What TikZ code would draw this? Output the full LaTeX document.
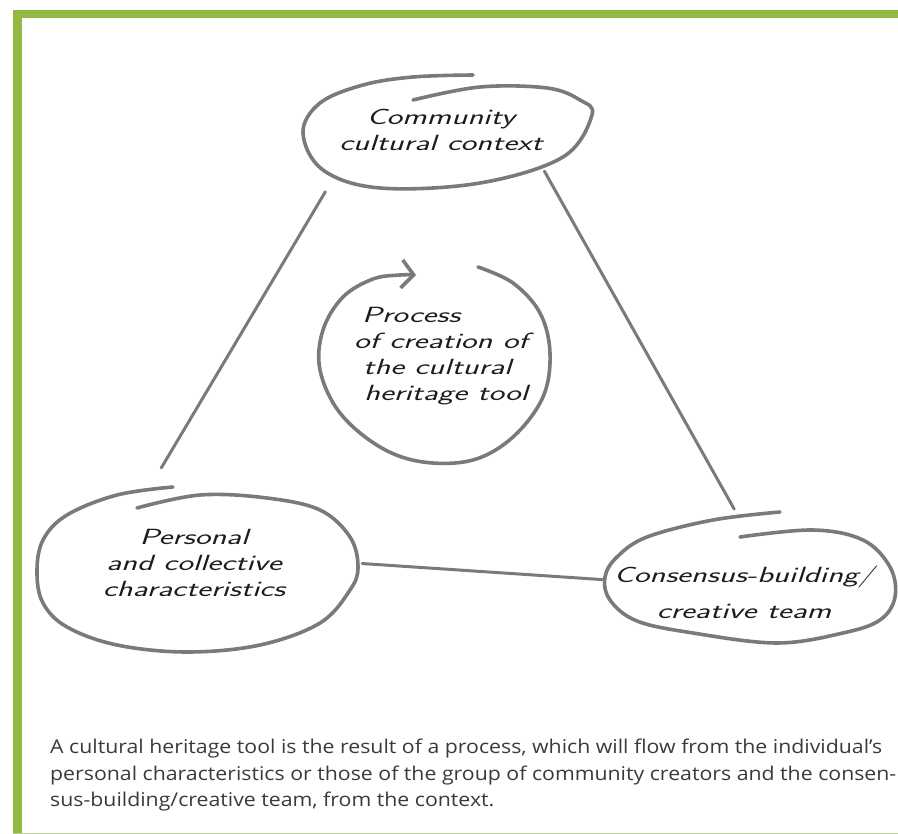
\documentclass[tikz,border=0pt]{standalone}
\usepackage{fontspec}
\usepackage{graphicx}
\usetikzlibrary{positioning,shapes.geometric,arrows.meta}
\newfontfamily\notefont{Open Sans}[FakeStretch=1.12]

\definecolor{framegreen}{RGB}{146,184,66}
\definecolor{edgegreen}{RGB}{188,212,150}
\definecolor{pencil}{RGB}{122,122,122}
\definecolor{ink}{RGB}{28,28,28}
\definecolor{notegray}{RGB}{58,58,58}

% stretched italic lettering for the hand-written labels
\newcommand{\hw}[1]{\scalebox{1.5}[1]{#1}}

\tikzset{
  sketch/.style={draw=pencil, line width=3.6pt, line cap=round, line join=round},
  link/.style={draw=pencil, line width=3pt, line cap=round},
  hand/.style={font=\fontsize{22}{26}\selectfont\sffamily\itshape, text=ink, align=center},
  bubble/.style={ellipse, inner xsep=-40pt, inner ysep=-10pt},
  note/.style={font=\fontsize{19}{27}\selectfont\notefont, text=notegray, anchor=base west, inner sep=0pt}
}

\begin{document}
\begin{tikzpicture}[x=1pt, y=-1pt]
  \useasboundingbox (0,0) rectangle (898,834);

  % Frame
  \fill[framegreen] (13,10) rectangle (898,18.5);
  \fill[framegreen] (13,10) rectangle (21.5,834);
  \fill[edgegreen] (13,832.5) rectangle (898,834);

  % Context
  \node[bubble, hand, minimum width=292pt, minimum height=116pt] (ctx) at (441,130) {\hw{Community}\\\hw{cultural context}};
  \draw[sketch] plot[smooth, tension=0.6] coordinates {(473,75) (413,77) (363,85) (320,103) (303,133) (323,170) (380,188) (480,183) (563,157) (592,115) (580,100) (547,88) (480,87) (413,100)};

  % Personal characteristics
  \node[bubble, hand, minimum width=320pt, minimum height=158pt] (pers) at (194,563) {\hw{Personal}\\\hw{and collective}\\\hw{characteristics}};
  \draw[sketch] plot[smooth, tension=0.6] coordinates {(173,487) (117,495) (67,515) (43,540) (37,572) (43,603) (67,627) (117,645) (187,652) (260,645) (320,623) (350,590) (358,567) (350,537) (320,510) (267,498) (200,495) (137,508)};

  % Team
  \node[bubble, hand, minimum width=290pt, minimum height=113pt] (team) at (744,592) {\hw{Consensus-building/}\\[10pt]\hw{creative team}};
  \draw[sketch] plot[smooth, tension=0.6] coordinates {(780,512) (713,520) (647,537) (617,557) (605,577) (610,600) (637,621) (693,633) (777,643) (843,633) (880,620) (895,597) (890,567) (863,540) (813,530) (740,537)};

  % Process loop
  \node[hand, align=left] (proc) at (441,356) {\hspace*{8pt}\hw{Process}\\\hw{of creation of}\\\hspace*{9pt}\hw{the cultural}\\\hspace*{10pt}\hw{heritage tool}};
  \draw[sketch, -{Straight Barb[length=12pt, width=28pt]}] plot[smooth, tension=0.6] coordinates {(478,267) (513,283) (540,313) (550,353) (543,397) (513,437) (473,460) (423,462) (380,447) (340,413) (320,370) (323,330) (343,297) (373,279) (400,275) (416,275)};

  % Connections
  \draw[link, shorten <=24pt, shorten >=22pt] (ctx.south west) -- (pers.120);
  \draw[link, shorten >=30pt] (ctx.south east) -- (team.85);
  \draw[link, shorten <=8pt] (pers.east) -- (team.175);

  % Caption
  \node[note] (note1) at (50,753) {A cultural heritage tool is the result of a process, which will flow from the individual’s};
  \node[note] (note2) at (50,780) {personal characteristics or those of the group of community creators and the consen-};
  \node[note] (note3) at (50,806) {sus-building/creative team, from the context.};
\end{tikzpicture}
\end{document}
